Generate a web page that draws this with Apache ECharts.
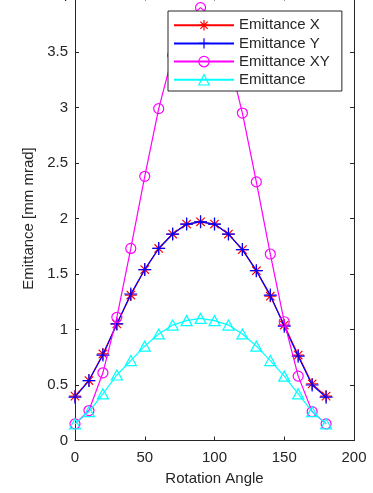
<!DOCTYPE html>
<html>
<head>
<meta charset="utf-8">
<script src="https://cdn.jsdelivr.net/npm/echarts@6/dist/echarts.min.js"></script>
<style>
html,body{margin:0;padding:0;background:#fff;}
#c{width:373px;height:493px;}
</style>
</head>
<body>
<div id="c"></div>
<script>
// ---- data ----
var angles = [0,10,20,30,40,50,60,70,80,90,100,110,120,130,140,150,160,170,180];
var emitX  = [0.40,0.54,0.78,1.05,1.31,1.54,1.73,1.86,1.95,1.97,1.95,1.86,1.72,1.53,1.30,1.04,0.77,0.51,0.40];
var emitY  = [0.39,0.54,0.77,1.05,1.32,1.54,1.73,1.86,1.95,1.97,1.95,1.86,1.72,1.53,1.31,1.03,0.76,0.50,0.39];
var emitXY = [0.15,0.27,0.61,1.11,1.73,2.38,2.99,3.47,3.79,3.90,3.79,3.46,2.95,2.33,1.68,1.07,0.58,0.26,0.15];
var emit   = [0.15,0.26,0.42,0.59,0.72,0.85,0.96,1.04,1.08,1.10,1.08,1.04,0.96,0.85,0.72,0.58,0.42,0.26,0.15];
var seriesNames = ['Emittance X','Emittance Y','Emittance XY','Emittance'];
var xTicks = {min:0, max:200, interval:50};
var yTicks = {min:0, max:4, interval:0.5};

function pairs(ys){ return angles.map(function(a,i){ return [a, ys[i]]; }); }

var TXT = '#262626';
var FONT = 'Liberation Sans, Arial, Helvetica, sans-serif';
var SYM = {
  star: 'path://M0,-1L0,1M-1,0L1,0M-0.7,-0.7L0.7,0.7M-0.7,0.7L0.7,-0.7',
  plus: 'path://M0,-1L0,1M-1,0L1,0',
  circle: 'path://M1,0A1,1 0 1,1 -1,0A1,1 0 1,1 1,0Z',
  tri: 'path://M0,-1L0.866,0.5L-0.866,0.5Z'
};
var styles = [
  {c:'#ff0000', s:SYM.star, sz:12},
  {c:'#0000ff', s:SYM.plus, sz:13},
  {c:'#ff00ff', s:SYM.circle, sz:10},
  {c:'#00ffff', s:SYM.tri, sz:[11,10]}
];
var dataSets = [emitX, emitY, emitXY, emit];

var series = dataSets.map(function(d,i){
  var st = styles[i];
  return {
    name: seriesNames[i], type:'line', data: pairs(d),
    symbol: st.s, symbolSize: st.sz, showSymbol:true,
    lineStyle:{color:st.c, width:1.2},
    itemStyle:{color:'none', borderColor:st.c, borderWidth:1.2},
    emphasis:{disabled:true}, animation:false, z: 2+i
  };
});

var axisCommon = {
  axisLine:{show:true, onZero:false, lineStyle:{color:TXT, width:1}},
  axisTick:{show:true, inside:true, length:4, lineStyle:{color:TXT}},
  splitLine:{show:false}
};

var chart = echarts.init(document.getElementById('c'), null, {renderer:'canvas'});
chart.setOption({
  backgroundColor:'#fff',
  animation:false,
  grid:{left:75, right:19, top:-3.5, bottom:52.5, containLabel:false, outerBoundsMode:'none'},
  legend:{
    orient:'vertical', left:168, top:11,
    data: seriesNames.map(function(n,i){
      return {name:n, itemStyle:{color:'none', borderColor:styles[i].c, borderWidth:1.2}};
    }),
    itemWidth:60, itemHeight:13, itemGap:2.8,
    padding:[6.5,12,3.5,5],
    backgroundColor:'#fff', borderColor:TXT, borderWidth:1,
    textStyle:{fontSize:15, color:TXT, fontFamily:FONT},
    selectedMode:false, z:10
  },
  xAxis:[
    Object.assign({type:'value', position:'bottom', min:xTicks.min, max:xTicks.max, interval:xTicks.interval,
      name:'Rotation Angle', nameLocation:'middle', nameGap:31,
      nameTextStyle:{fontSize:15, color:TXT, fontFamily:FONT},
      axisLabel:{show:true, margin:10, fontSize:15, color:TXT, fontFamily:FONT}}, axisCommon),
    Object.assign({type:'value', position:'top', min:xTicks.min, max:xTicks.max, interval:xTicks.interval,
      axisLabel:{show:false}}, axisCommon)
  ],
  yAxis:[
    Object.assign({type:'value', position:'left', min:yTicks.min, max:yTicks.max, interval:yTicks.interval,
      name:'Emittance [mm mrad]', nameLocation:'middle', nameGap:38,
      nameTextStyle:{fontSize:15, color:TXT, fontFamily:FONT},
      axisLabel:{show:true, margin:7, fontSize:15, color:TXT, fontFamily:FONT}}, axisCommon),
    Object.assign({type:'value', position:'right', min:yTicks.min, max:yTicks.max, interval:yTicks.interval,
      axisLabel:{show:false}}, axisCommon)
  ],
  series: series
});
</script>
</body>
</html>
